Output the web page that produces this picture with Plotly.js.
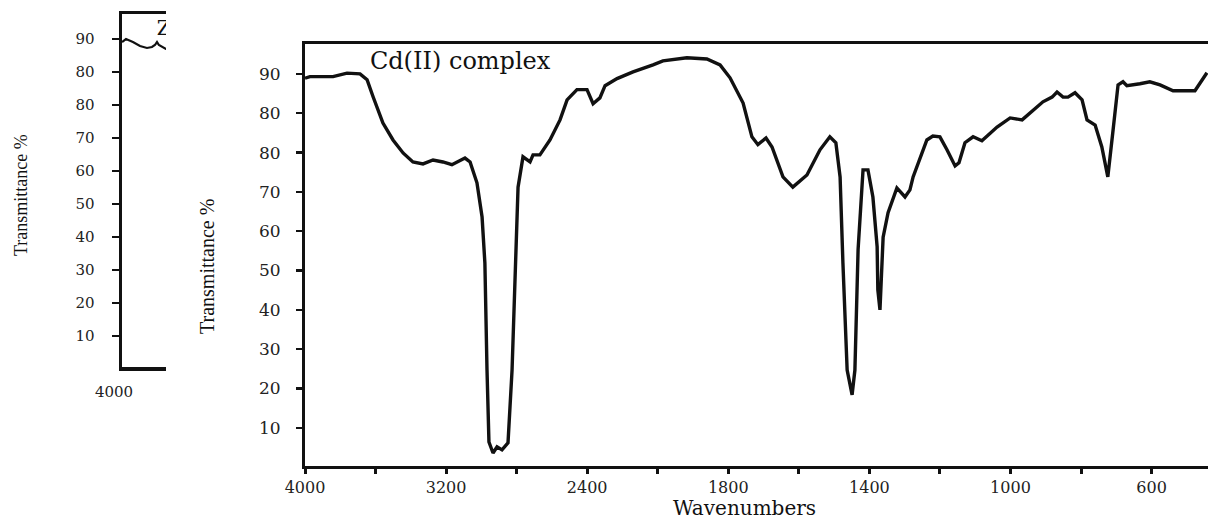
<!DOCTYPE html>
<html>
<head>
<meta charset="utf-8">
<script src="https://cdn.plot.ly/plotly-3.0.1.min.js"></script>
<style>html,body{margin:0;padding:0;background:#fff}#chart{width:1208px;height:521px}</style>
</head>
<body>
<div id="chart"></div>
<script>
// Axis tick wavenumbers (the printed scale is not linear) and their labels
const tickWavenumbers = [4000, 3600, 3200, 2800, 2400, 2100, 1800, 1600, 1400, 1200, 1000, 800, 600];
const tickLabels = ['4000', '', '3200', '', '2400', '', '1800', '', '1400', '', '1000', '', '600'];
const yTickPositions = [10, 20, 30, 40, 50, 60, 70, 80, 90, 100];
const yTickLabels = ['10', '20', '30', '40', '50', '60', '70', '80', '80', '90'];

// Cd(II) complex spectrum (main panel)
const cdWavenumber = [4000,3972,3841,3762,3688,3648,3614,3558,3501,3444,3388,3331,3274,3218,3167,3138,3093,3064,3025,2996,2980,2968,2957,2934,2911,2883,2849,2826,2809,2792,2764,2724,2707,2668,2611,2554,2514,2458,2401,2375,2346,2324,2273,2205,2120,2078,1976,1891,1835,1795,1758,1733,1716,1693,1676,1645,1617,1577,1540,1512,1495,1483,1475,1463,1449,1441,1432,1418,1404,1390,1378,1376,1370,1361,1347,1322,1299,1285,1276,1237,1220,1200,1180,1157,1146,1129,1106,1081,1038,1001,967,936,908,882,868,851,837,817,797,783,760,741,724,709,695,681,670,633,605,576,539,477,443];
const cdTransmittance = [98.9,99.3,99.3,100.2,100.0,98.5,94.2,87.5,83.2,79.9,77.6,77.1,78.1,77.6,76.9,77.6,78.6,77.6,72.3,63.6,51.9,24.7,6.4,3.6,5.2,4.4,6.2,24.7,50.1,71.2,78.9,77.6,79.4,79.4,83.2,88.3,93.4,96.0,96.0,92.4,93.9,97.0,98.8,100.5,102.3,103.3,104.1,103.8,102.3,99.0,92.6,84.0,82.0,83.7,81.4,73.8,71.2,74.3,80.7,84.0,82.5,73.8,51.9,24.7,18.4,24.7,55.3,75.6,75.6,68.7,56.0,45.1,40.0,58.5,64.7,71.0,68.7,70.5,73.8,83.2,84.2,84.0,80.7,76.6,77.4,82.5,84.0,83.0,86.5,88.8,88.3,90.8,92.9,94.1,95.4,94.1,94.1,95.2,93.4,88.3,87.0,81.4,73.8,85.8,97.2,98.0,97.0,97.5,98.0,97.2,95.7,95.7,100.3];

// Partially visible left panel (cropped spectrum)
const znWavenumber = [4000,3973,3926,3878,3831,3797,3777,3763,3750,3729,3702,3675];
const znTransmittance = [99.1,100.0,99.1,97.9,97.3,97.6,98.2,99.1,98.2,97.6,97.0,96.7];

const mainTitle = 'Cd(II) complex';
const leftTitle = 'Zn(II) complex';
const yTitle = 'Transmittance %';
const xTitle = 'Wavenumbers';

// piecewise mapping from wavenumber to printed-axis position (tick index)
function toAxis(wn) {
  const n = tickWavenumbers.length;
  for (let i = 0; i < n - 1; i++) {
    const a = tickWavenumbers[i], b = tickWavenumbers[i + 1];
    if (wn <= a && wn >= b) return i + (a - wn) / (a - b);
  }
  if (wn > tickWavenumbers[0]) {
    return -(wn - tickWavenumbers[0]) / (tickWavenumbers[0] - tickWavenumbers[1]);
  }
  const a = tickWavenumbers[n - 2], b = tickWavenumbers[n - 1];
  return (n - 1) + (b - wn) / (a - b);
}
const tickPos = tickWavenumbers.map(toAxis);

const W = 1208, H = 521;
const serif = 'DejaVu Serif, serif';
const times = 'Liberation Serif, Times New Roman, serif';

const traces = [
  {
    x: cdWavenumber.map(toAxis), y: cdTransmittance, xaxis: 'x', yaxis: 'y',
    type: 'scatter', mode: 'lines', line: {color: '#111', width: 3.4, shape: 'linear'},
    hoverinfo: 'skip'
  },
  {
    x: [toAxis(3632)], y: [102.8], xaxis: 'x', yaxis: 'y',
    type: 'scatter', mode: 'text', text: [mainTitle], textposition: 'middle right',
    textfont: {family: serif, size: 24, color: '#111'}, cliponaxis: true, hoverinfo: 'skip'
  },
  {
    x: znWavenumber.map(toAxis), y: znTransmittance, xaxis: 'x2', yaxis: 'y2',
    type: 'scatter', mode: 'lines', line: {color: '#111', width: 2.2},
    hoverinfo: 'skip'
  },
  {
    x: [toAxis(3764)], y: [102.7], xaxis: 'x2', yaxis: 'y2',
    type: 'scatter', mode: 'text', text: [leftTitle], textposition: 'middle right',
    textfont: {family: serif, size: 20, color: '#111'}, cliponaxis: true, hoverinfo: 'skip'
  }
];

const layout = {
  width: W, height: H,
  margin: {l: 0, r: 0, t: 0, b: 0},
  paper_bgcolor: '#fff', plot_bgcolor: '#fff',
  showlegend: false,
  xaxis: {
    domain: [305 / W, 1], range: [0, 12.8], anchor: 'y',
    tickmode: 'array', tickvals: tickPos, ticktext: tickLabels,
    ticks: 'outside', ticklen: 5, tickwidth: 3, tickcolor: '#111',
    showline: true, linewidth: 3, linecolor: '#111', mirror: true,
    showgrid: false, zeroline: false,
    tickfont: {family: serif, size: 16, color: '#222'}, ticklabelstandoff: 0
  },
  yaxis: {
    domain: [(H - 466) / H, (H - 44) / H], range: [0.3, 107.6], anchor: 'x',
    tickmode: 'array', tickvals: yTickPositions, ticktext: yTickLabels,
    ticks: 'outside', ticklen: 6, tickwidth: 2.5, tickcolor: '#111',
    showline: true, linewidth: 3, linecolor: '#111', mirror: false,
    showgrid: false, zeroline: false,
    tickfont: {family: serif, size: 17, color: '#222'}, ticklabelstandoff: 12
  },
  xaxis2: {
    domain: [122 / W, 166 / W], range: [0, 0.745], anchor: 'y2',
    tickmode: 'array', tickvals: [tickPos[0]], ticktext: [tickLabels[0]],
    ticks: '', showline: true, linewidth: 3.5, linecolor: '#111', mirror: true,
    showgrid: false, zeroline: false,
    tickfont: {family: serif, size: 15, color: '#222'}, ticklabelstandoff: 8, ticklabelshift: -8
  },
  yaxis2: {
    domain: [(H - 367) / H, (H - 14) / H], range: [0.6, 107.6], anchor: 'x2',
    tickmode: 'array', tickvals: yTickPositions, ticktext: yTickLabels,
    ticks: 'outside', ticklen: 7, tickwidth: 2.5, tickcolor: '#111',
    showline: true, linewidth: 3.5, linecolor: '#111', mirror: false,
    showgrid: false, zeroline: false,
    tickfont: {family: serif, size: 15, color: '#222'}, ticklabelstandoff: 14
  },
  annotations: [
    {text: yTitle, xref: 'paper', yref: 'paper', x: 21 / W, y: (H - 195) / H,
     textangle: -90, showarrow: false, xanchor: 'center', yanchor: 'middle',
     font: {family: times, size: 18, color: '#111'}},
    {text: yTitle, xref: 'paper', yref: 'paper', x: 207 / W, y: (H - 266) / H,
     textangle: -90, showarrow: false, xanchor: 'center', yanchor: 'middle',
     font: {family: times, size: 20, color: '#111'}},
    {text: xTitle, xref: 'paper', yref: 'paper', x: 744 / W, y: 0,
     showarrow: false, xanchor: 'center', yanchor: 'bottom', borderpad: 0,
     font: {family: serif, size: 20, color: '#111'}}
  ]
};

Plotly.newPlot('chart', traces, layout, {staticPlot: true, displayModeBar: false});
</script>
</body>
</html>
